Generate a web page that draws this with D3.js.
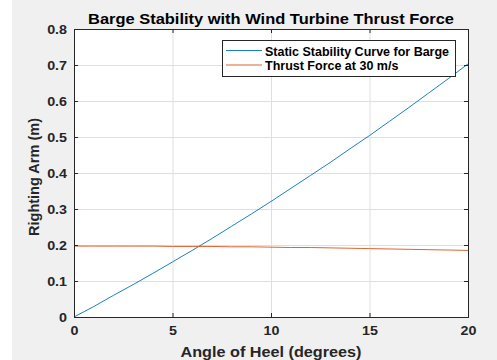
<!DOCTYPE html>
<html><head><meta charset="utf-8">
<script src="https://cdn.jsdelivr.net/npm/d3@7"></script>
<style>
html,body{margin:0;padding:0;background:#fff;}
svg{display:block;font-family:"Liberation Sans",Arial,sans-serif;}
</style></head>
<body>
<svg id="c" width="497" height="360"></svg>
<script>
const angles = [0,1,2,3,4,5,6,7,8,9,10,11,12,13,14,15,16,17,18,19,20];
const stability = [0,0.029,0.060,0.090,0.121,0.153,0.185,0.218,0.252,0.286,0.321,0.357,0.393,0.429,0.467,0.504,0.543,0.582,0.622,0.662,0.703];
const thrust = [0.197,0.197,0.197,0.197,0.197,0.196,0.196,0.196,0.195,0.195,0.194,0.193,0.193,0.192,0.191,0.190,0.189,0.188,0.187,0.186,0.185];
const xTicks = [0,5,10,15,20];
const yTicks = [0,0.1,0.2,0.3,0.4,0.5,0.6,0.7,0.8];
const seriesNames = ["Static Stability Curve for Barge","Thrust Force at 30 m/s"];
const colors = ["#0072BD","#D95319"];

const svg = d3.select("#c");
svg.append("rect").attr("x",12).attr("y",0).attr("width",485).attr("height",360).attr("fill","#f0f0f0");

const L=74,R=468,T=29,B=317;
const x = d3.scaleLinear().domain([0,20]).range([L,R]);
const y = d3.scaleLinear().domain([0,0.8]).range([B,T]);

function stretch(sel, f){
  sel.each(function(){
    const w = this.getComputedTextLength();
    if (w>0) d3.select(this).attr("textLength", w*f).attr("lengthAdjust","spacingAndGlyphs");
  });
}

svg.append("rect").attr("x",L).attr("y",T).attr("width",R-L).attr("height",B-T).attr("fill","#fff");

// grid
const g = svg.append("g");
g.selectAll(".gx").data(xTicks).enter().append("line")
 .attr("x1",d=>x(d)+0.5).attr("x2",d=>x(d)+0.5).attr("y1",T).attr("y2",B)
 .attr("stroke","#dfdfdf").attr("stroke-width",1);
g.selectAll(".gy").data(yTicks).enter().append("line")
 .attr("y1",d=>Math.round(y(d))+0.5).attr("y2",d=>Math.round(y(d))+0.5).attr("x1",L).attr("x2",R)
 .attr("stroke","#dfdfdf").attr("stroke-width",1);

// lines
const line = d3.line().x((d,i)=>x(angles[i])).y(d=>y(d));
[stability,thrust].forEach((s,k)=>{
  svg.append("path").datum(s).attr("d",line).attr("fill","none")
   .attr("stroke",colors[k]).attr("stroke-width",0.9);
});

// axes
const ax = svg.append("g").attr("transform",`translate(0,${B})`)
 .call(d3.axisBottom(x).tickValues(xTicks).tickSize(-4).tickPadding(9).tickFormat(d3.format("d")));
const ay = svg.append("g").attr("transform",`translate(${L},0)`)
 .call(d3.axisLeft(y).tickValues(yTicks).tickSize(-4).tickPadding(7).tickFormat(d=>d===0?"0":d3.format(".1f")(d)));
const axT = svg.append("g").attr("transform",`translate(0,${T})`)
 .call(d3.axisTop(x).tickValues(xTicks).tickSize(-4).tickFormat(""));
const ayR = svg.append("g").attr("transform",`translate(${R},0)`)
 .call(d3.axisRight(y).tickValues(yTicks).tickSize(-4).tickFormat(""));
[ax,ay,axT,ayR].forEach(a=>{
  a.selectAll("path").attr("stroke","#262626").attr("stroke-width",1);
  a.selectAll("line").attr("stroke","#262626");
  a.selectAll("text").attr("fill","#262626").style("font-size","13px").style("font-weight","bold").style("font-family","Liberation Sans, Arial, sans-serif");
});
stretch(ax.selectAll("text"),1.1);
stretch(ay.selectAll("text"),1.1);

// title & labels
svg.append("text").attr("x",271).attr("y",24).attr("text-anchor","middle")
 .style("font-size","15px").style("font-weight","bold").attr("fill","#000")
 .attr("textLength",366).attr("lengthAdjust","spacingAndGlyphs")
 .text("Barge Stability with Wind Turbine Thrust Force");
svg.append("text").attr("x",271).attr("y",357).attr("text-anchor","middle")
 .style("font-size","15px").style("font-weight","bold").attr("fill","#262626")
 .attr("textLength",181).attr("lengthAdjust","spacingAndGlyphs")
 .text("Angle of Heel (degrees)");
svg.append("text").attr("transform","translate(39,177) rotate(-90)").attr("text-anchor","middle")
 .style("font-size","15px").style("font-weight","bold").attr("fill","#262626")
 .attr("textLength",118).attr("lengthAdjust","spacingAndGlyphs")
 .text("Righting Arm (m)");

// legend
const lg = svg.append("g");
lg.append("rect").attr("x",222.5).attr("y",40.5).attr("width",233).attr("height",36)
 .attr("fill","#fff").attr("stroke","#262626").attr("stroke-width",1);
const legW = [185,134];
seriesNames.forEach((n,i)=>{
  const yy = 50.5 + i*14.5;
  lg.append("line").attr("x1",226).attr("x2",262).attr("y1",yy).attr("y2",yy)
   .attr("stroke",colors[i]).attr("stroke-width",0.9);
  const t = lg.append("text").attr("x",265).attr("y",yy+5).style("font-size","12.5px").style("font-weight","bold")
   .attr("fill","#000").text(n);
  stretch(t, 185/ (i===0 ? t.node().getComputedTextLength() : t.node().getComputedTextLength()) * (i===0?1:1) > 0 ? 1.0 : 1.0);
});
</script>
</body></html>
